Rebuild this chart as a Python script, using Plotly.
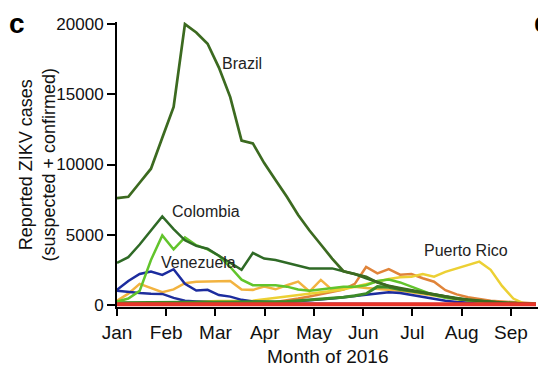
import plotly.graph_objects as go

# Weekly reported ZIKV cases (suspected + confirmed), first week of January 2016 onward
weeks = list(range(38))
month_labels = ["Jan", "Feb", "Mar", "Apr", "May", "Jun", "Jul", "Aug", "Sep"]
y_ticks = [0, 5000, 10000, 15000, 20000]

brazil = [7600, 7700, 8700, 9700, 11900, 14100, 20000, 19400, 18600, 16900,
          14800, 11700, 11500, 10100, 8900, 7700, 6400, 5300, 4300, 3300,
          2400, 2200, 2000, 1600, 1350, 1200, 1050, 900, 700, 550,
          450, 380, 300, 200, 150, 100, 60, 50]
colombia = [3000, 3400, 4300, 5300, 6300, 5400, 4600, 4200, 4000, 3500,
            3000, 2500, 3700, 3300, 3200, 3000, 2800, 2600, 2600, 2600,
            2400, 2200, 1900, 1600, 1350, 1150, 1000, 850, 700, 550,
            450, 350, 280, 200, 150, 100, 80, 60]
venezuela = [240, 450, 1000, 3200, 4950, 3950, 4800, 4250, 3950, 3500,
             2700, 1800, 1400, 1400, 1400, 1300, 1100, 1000, 1100, 1200,
             1300, 1300, 1400, 1700, 1800, 1600, 1300, 1000, 700, 500,
             400, 300, 200, 150, 100, 80, 60, 50]
green_low = [150, 160, 170, 180, 200, 200, 200, 200, 200, 200,
             200, 200, 200, 200, 220, 250, 300, 350, 400, 450,
             550, 650, 800, 1300, 1250, 1100, 1000, 900, 750, 600,
             450, 350, 250, 200, 150, 100, 60, 40]
blue_a = [1070, 1700, 2200, 2370, 2140, 2540, 1500, 1020, 1070, 700,
          590, 360, 250, 200, 200, 200, 250, 300, 350, 450,
          550, 650, 750, 850, 900, 850, 700, 550, 400, 300,
          200, 150, 100, 80, 60, 50, 40, 30]
blue_b = [1000, 900, 850, 800, 780, 500, 300, 250, 200, 150,
          120, 100, 100, 100, 100, 100, 100, 100, 100, 100,
          100, 100, 100, 100, 100, 90, 80, 70, 60, 50,
          40, 30, 30, 20, 20, 20, 20, 20]
golden = [300, 800, 1500, 1200, 900, 1100, 1540, 1650, 1660, 1680,
          1710, 1100, 1070, 1300, 1110, 1400, 1660, 950, 1780, 1070,
          1200, 1300, 1200, 1150, 1100, 1000, 900, 800, 700, 550,
          400, 300, 250, 200, 150, 100, 80, 60]
orange = [100, 100, 120, 120, 120, 120, 120, 120, 120, 120,
          120, 120, 130, 150, 200, 300, 450, 600, 750, 900,
          1100, 1500, 2700, 2250, 2550, 2150, 2200, 1900, 1650, 1050,
          750, 550, 400, 300, 250, 200, 150, 100]
puerto_rico = [50, 80, 100, 120, 150, 180, 200, 220, 250, 270,
               280, 290, 300, 400, 500, 600, 700, 800, 900, 1000,
               1100, 1300, 1500, 1700, 1850, 1970, 2010, 2200, 2010, 2350,
               2600, 2800, 3080, 2500, 1350, 450, 80, 30]
red = [40] * 38

# Week index -> months since 1 January (month ticks are evenly spaced)
x = [w * 7 / 30.44 for w in weeks]

series = [
    (orange, "#e0843a", 2.5),
    (golden, "#f2b340", 2.5),
    (puerto_rico, "#ecd034", 2.5),
    (blue_b, "#1f2f9c", 2.5),
    (blue_a, "#1c2c9e", 2.5),
    (green_low, "#3c8c28", 3),
    (venezuela, "#62c42c", 2.5),
    (colombia, "#2f6a26", 2.5),
    (brazil, "#3c6a20", 2.7),
    (red, "#e8352a", 4),
]

fig = go.Figure()
for vals, color, width in series:
    fig.add_trace(go.Scatter(x=x, y=vals, mode="lines",
                             line=dict(color=color, width=width),
                             hoverinfo="skip", showlegend=False))

font_family = "Liberation Sans, Arial, sans-serif"

labels = [
    ("Brazil", 2.53, 17220),
    ("Colombia", 1.80, 6620),
    ("Venezuela", 1.645, 3025),
    ("Puerto Rico", 7.08, 3840),
]
for text, lx, ly in labels:
    fig.add_annotation(x=lx, y=ly, xref="x", yref="y", text=text, showarrow=False,
                       xanchor="center", yanchor="middle",
                       font=dict(family=font_family, size=16, color="#222222"))

# Axis titles
fig.add_annotation(x=-0.190, y=0.5, xref="paper", yref="paper",
                   text="Reported ZIKV cases<br>(suspected + confirmed)",
                   textangle=-90, showarrow=False, xanchor="center", yanchor="middle",
                   font=dict(family=font_family, size=18, color="#111111"))
fig.add_annotation(x=0.5, y=-0.1754, xref="paper", yref="paper",
                   text="Month of 2016", showarrow=False, xanchor="center", yanchor="middle",
                   font=dict(family=font_family, size=19, color="#111111"))

# Panel letters
fig.add_annotation(x=-0.238, y=0.996, xref="paper", yref="paper", text="<b>c</b>",
                   showarrow=False, xanchor="center", yanchor="middle",
                   font=dict(family=font_family, size=28, color="#000000"))
fig.add_annotation(x=1.0, y=1.0, xref="paper", yref="paper", text="<b>d</b>",
                   xanchor="left", yanchor="middle", xshift=-6, showarrow=False,
                   font=dict(family=font_family, size=28, color="#000000"))

fig.update_xaxes(range=[0, 8.55], tickvals=list(range(9)), ticktext=month_labels,
                 showline=True, linecolor="black", linewidth=2,
                 ticks="outside", ticklen=7, tickwidth=2, tickcolor="black",
                 showgrid=False, zeroline=False,
                 tickfont=dict(family=font_family, size=19, color="#111111"))
fig.update_yaxes(range=[-150, 20150], tickvals=y_ticks, ticktext=[str(v) for v in y_ticks],
                 showline=True, linecolor="black", linewidth=2,
                 ticks="outside", ticklen=8, tickwidth=2, tickcolor="black",
                 showgrid=False, zeroline=False,
                 tickfont=dict(family=font_family, size=17, color="#111111"))

fig.update_layout(width=538, height=372,
                  margin=dict(l=117, r=0, t=22, b=65, autoexpand=False),
                  paper_bgcolor="white", plot_bgcolor="white")

fig.write_html("out.html")
